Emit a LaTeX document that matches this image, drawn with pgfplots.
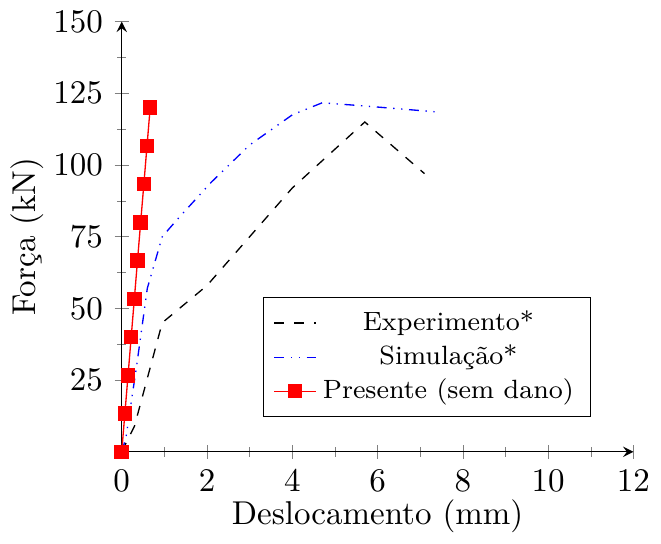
\documentclass[border=0pt]{standalone}
\usepackage{pgfplots}
\pgfplotsset{compat=1.18}
\begin{document}
\begin{tikzpicture}
\begin{axis}[
  scale only axis,
  width=155pt, height=130.3pt,
  axis lines=middle,
  axis line style={-stealth},
  xmin=0, xmax=12, ymin=0, ymax=150,
  xtick={0,2,...,12}, ytick={25,50,...,150},
  minor x tick num=1, minor y tick num=1,
  hide obscured x ticks=false,
  xlabel={Deslocamento (mm)}, ylabel={Força (kN)},
  xlabel style={at={([yshift=-11pt]axis description cs:0.5,0)}, anchor=north},
  ylabel style={at={([xshift=-20pt]axis description cs:0,0.5)}, anchor=south, rotate=90},
  clip=false,
  legend cell align=center,
  legend image code/.code={\draw[mark repeat=2,mark phase=2] plot coordinates {(0cm,0cm) (0.22cm,0cm) (0.44cm,0cm)};},
  legend style={at={(0.917,0.08)}, anchor=south east, draw=black, font=\footnotesize, row sep=-1.2pt},
]
\addplot[black, dashed] coordinates {
(0,0) (0.3,9) (0.95,45) (2,58) (4,92) (5.7,115) (7.1,97)
};
\addlegendentry{Experimento*}
\addplot[blue, dash dot dot] coordinates {
(0,0) (0.1,5) (0.2,15) (0.35,30) (0.6,57) (0.95,75) (1.3,81) (2.1,94) (3,107) (4,117.5) (4.7,121.7) (5.6,120.7) (7.4,118.5)
};
\addlegendentry{Simulação*}
\addplot[red, mark=square*, mark options={red}] coordinates {
(0,0) (0.074,13.33) (0.148,26.67) (0.222,40) (0.296,53.33) (0.370,66.67) (0.444,80) (0.519,93.33) (0.593,106.67) (0.667,120)
};
\addlegendentry{Presente (sem dano)}
\end{axis}
\end{tikzpicture}
\end{document}
